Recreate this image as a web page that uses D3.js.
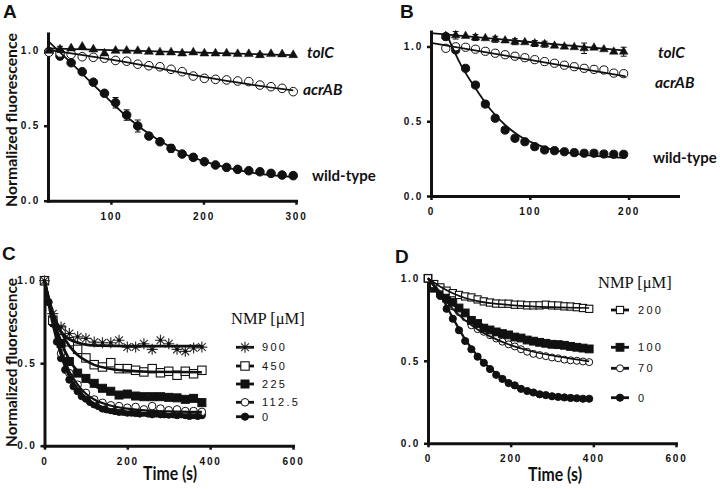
<!DOCTYPE html>
<html><head><meta charset="utf-8">
<script src="https://cdn.jsdelivr.net/npm/d3@7"></script>
<style>body{margin:0;background:#fff}svg{display:block}</style>
</head><body>
<svg id="chart" width="720" height="489"></svg>
<script>
// ---------------- DATA ----------------
// Panel A
const timeA = [33,45,57,69,81,93,105,117,129,141,153,165,177,189,201,213,225,237,249,261,273,285,297];
const tolcA = [1.0,1.009,1.016,1.027,1.009,0.982,1.0,1.0,0.998,0.993,0.989,0.989,0.982,0.989,0.982,0.982,0.982,0.978,0.978,0.971,0.978,0.976,0.971];
const tolcAErr = [0,0.02,0,0,0,0,0,0,0,0,0,0,0,0,0,0,0,0,0,0.012,0,0,0];
const acrabA = [0.99,0.985,0.976,0.96,0.956,0.95,0.935,0.93,0.91,0.9,0.893,0.876,0.86,0.831,0.816,0.809,0.805,0.798,0.794,0.771,0.76,0.749,0.727];
const acrabAErr = [0.02,0,0,0,0,0.02,0,0.02,0.015,0,0,0,0,0,0,0,0,0,0,0,0,0.02,0];
const wtA = [0.994,0.965,0.92,0.86,0.79,0.716,0.653,0.571,0.498,0.431,0.393,0.349,0.311,0.289,0.26,0.238,0.222,0.209,0.2,0.193,0.182,0.171,0.167];
const wtAErr = [0.02,0.025,0,0,0,0.015,0.035,0.035,0.04,0.02,0,0.025,0,0.02,0,0,0,0,0,0,0,0,0];
const fitTolcA = [[32,1.015],[297,0.97]];
const fitAcrabA = [[32,1.005],[100,0.94],[150,0.885],[200,0.825],[250,0.775],[297,0.735]];
const fitWtA = [[32,1.065],[60,0.9],[90,0.72],[120,0.545],[150,0.41],[180,0.31],[210,0.245],[240,0.2],[270,0.172],[297,0.158]];

// Panel B
const timeB = [15,25,35,45,55,65,75,85,95,105,115,125,135,145,155,165,175,185,195];
const tolcB = [1.07,1.075,1.07,1.06,1.055,1.048,1.04,1.032,1.028,1.02,1.015,1.005,0.999,0.995,0.988,0.992,0.981,0.965,0.965];
const tolcBErr = [0,0.025,0,0.02,0,0.02,0,0.02,0,0.02,0.02,0,0,0,0.035,0,0,0,0.03];
const acrabB = [0.988,0.998,0.995,0.982,0.968,0.955,0.945,0.935,0.925,0.912,0.899,0.888,0.875,0.865,0.854,0.847,0.843,0.822,0.818];
const wtB = [1.066,0.977,0.854,0.742,0.615,0.52,0.441,0.386,0.363,0.33,0.308,0.303,0.296,0.29,0.286,0.286,0.281,0.279,0.279];
const fitTolcB = [[0,1.09],[197,0.972]];
const fitAcrabB = [[0,1.025],[197,0.80]];
const fitWtB = [[16,1.08],[30,0.88],[45,0.72],[60,0.58],[75,0.475],[90,0.40],[105,0.35],[120,0.315],[140,0.288],[160,0.272],[180,0.262],[197,0.256]];

// Panel C
const timeC20 = [0,20,40,60,80,100,120,140,160,180,200,220,240,260,280,300,320,340,360,380];
const timeC10 = [0,10,20,30,40,50,60,70,80,90,100,110,120,130,140,150,160,170,180,190,200,210,220,230,240,250,260,270,280,290,300,310,320,330,340,350,360,370,380];
const c900 = [1.0,0.80,0.72,0.68,0.66,0.65,0.628,0.624,0.624,0.639,0.598,0.598,0.618,0.584,0.639,0.618,0.584,0.572,0.592,0.598];
const c450 = [1.0,0.76,0.70,0.63,0.584,0.532,0.491,0.477,0.503,0.467,0.467,0.457,0.447,0.467,0.442,0.451,0.427,0.451,0.436,0.457];
const c225 = [1.0,0.76,0.62,0.51,0.44,0.408,0.378,0.348,0.33,0.307,0.313,0.301,0.297,0.297,0.297,0.293,0.29,0.281,0.287,0.261];
const c112 = [1.0,0.76,0.56,0.44,0.37,0.32,0.28,0.26,0.245,0.24,0.23,0.235,0.22,0.24,0.225,0.215,0.22,0.21,0.21,0.205];
const c0 = [1.0,0.87,0.74,0.63,0.53,0.46,0.40,0.36,0.33,0.30,0.285,0.265,0.25,0.24,0.225,0.22,0.215,0.21,0.205,0.205,0.20,0.20,0.198,0.195,0.20,0.195,0.19,0.195,0.19,0.19,0.188,0.19,0.185,0.19,0.185,0.18,0.185,0.18,0.185];
const fitC900 = [[0,1],[10,0.89],[20,0.80],[30,0.735],[40,0.69],[60,0.645],[80,0.625],[100,0.613],[140,0.606],[200,0.604],[380,0.603]];
const fitC450 = [[0,1],[20,0.81],[40,0.69],[60,0.605],[80,0.55],[100,0.515],[120,0.49],[150,0.47],[200,0.455],[250,0.448],[380,0.445]];
const fitC225 = [[0,1],[20,0.78],[40,0.63],[60,0.52],[80,0.45],[100,0.40],[120,0.365],[150,0.33],[200,0.30],[250,0.29],[300,0.283],[380,0.28]];
const fitC112 = [[0,1],[20,0.77],[40,0.58],[60,0.45],[80,0.37],[100,0.315],[120,0.28],[150,0.25],[200,0.225],[250,0.213],[300,0.208],[380,0.205]];
const fitC0 = [[0,1],[20,0.74],[40,0.55],[60,0.42],[80,0.345],[100,0.29],[120,0.255],[150,0.225],[200,0.205],[250,0.195],[300,0.19],[380,0.188]];
const legendC = ["900","450","225","112.5","0"];

// Panel D
const timeD = [0,15,30,45,60,75,90,105,120,135,150,165,180,195,210,225,240,255,270,285,300,315,330,345,360,375,390];
const d200 = [1.0,0.965,0.945,0.925,0.91,0.899,0.89,0.884,0.872,0.86,0.853,0.847,0.846,0.846,0.84,0.84,0.836,0.836,0.836,0.84,0.836,0.835,0.83,0.829,0.825,0.82,0.815];
const d100 = [1.0,0.94,0.91,0.88,0.855,0.82,0.79,0.745,0.726,0.698,0.687,0.675,0.665,0.657,0.644,0.638,0.626,0.619,0.612,0.606,0.6,0.598,0.594,0.587,0.582,0.577,0.572];
const d70 = [1.0,0.96,0.91,0.87,0.83,0.795,0.763,0.715,0.692,0.676,0.655,0.635,0.616,0.6,0.587,0.57,0.555,0.542,0.535,0.528,0.52,0.515,0.507,0.503,0.5,0.496,0.492];
const d0 = [1.0,0.95,0.893,0.815,0.755,0.685,0.62,0.57,0.525,0.488,0.45,0.415,0.39,0.365,0.351,0.33,0.317,0.308,0.297,0.292,0.285,0.281,0.278,0.275,0.273,0.27,0.27];
const fitD200 = [[0,1],[30,0.949],[60,0.91],[90,0.881],[120,0.862],[150,0.849],[200,0.838],[250,0.83],[300,0.825],[390,0.82]];
const fitD100 = [[0,1],[30,0.915],[60,0.845],[90,0.785],[120,0.735],[150,0.695],[200,0.65],[250,0.62],[300,0.6],[350,0.585],[390,0.576]];
const fitD70 = [[0,1],[30,0.9],[60,0.815],[90,0.745],[120,0.69],[150,0.648],[200,0.595],[250,0.558],[300,0.532],[350,0.512],[390,0.497]];
const fitD0 = [[0,1],[30,0.9],[60,0.76],[90,0.63],[120,0.53],[150,0.455],[180,0.395],[210,0.352],[240,0.32],[270,0.3],[300,0.287],[340,0.276],[390,0.268]];
const legendD = ["200","100","70","0"];

const yTicks = [0, 0.5, 1.0];
const xTicksA = [100, 200, 300];
const xTicksB = [0, 100, 200];
const xTicksCD = [0, 200, 400, 600];

// ---------------- DRAWING ----------------
const INK = "#111";
const TICK_FONT = "'Liberation Sans', Arial, sans-serif";
const LABEL_FONT = "Lato, 'Open Sans', sans-serif";
const svg = d3.select("#chart");

function axes(g, x, y, xt, yt) {
  const xa = d3.axisBottom(x).tickValues(xt).tickSize(4).tickSizeOuter(0).tickPadding(8).tickFormat(d3.format("d"));
  const ya = d3.axisLeft(y).tickValues(yt).tickSize(4).tickSizeOuter(0).tickPadding(4).tickFormat(d3.format(".1f"));
  const gx = g.append("g").attr("transform", `translate(0,${y(0)})`).call(xa);
  const gy = g.append("g").attr("transform", `translate(${x.range()[0]},0)`).call(ya);
  [gx, gy].forEach(a => {
    a.select(".domain").attr("stroke", INK).attr("stroke-width", 3).attr("stroke-linecap", "square");
    a.selectAll(".tick line").attr("stroke", INK).attr("stroke-width", 2.5);
    a.selectAll(".tick text").attr("fill", INK)
      .style("font-family", TICK_FONT).style("font-weight", "bold")
      .style("font-size", "10px").style("letter-spacing", "1.8px");
  });
}

function starPath(r) {
  let p = "";
  for (let k = 0; k < 4; k++) {
    const a = k * Math.PI / 4, dx = r * Math.cos(a), dy = r * Math.sin(a);
    p += `M${-dx},${-dy}L${dx},${dy}`;
  }
  return p;
}

function marker(g, cx, cy, type, size, filled) {
  const fill = filled ? INK : "#fff";
  if (type === "circle") {
    g.append("circle").attr("cx", cx).attr("cy", cy).attr("r", size)
      .attr("fill", fill).attr("stroke", INK).attr("stroke-width", 1);
  } else if (type === "square") {
    g.append("rect").attr("x", cx - size).attr("y", cy - size).attr("width", 2 * size).attr("height", 2 * size)
      .attr("fill", fill).attr("stroke", INK).attr("stroke-width", filled ? 1 : 1.1);
  } else if (type === "triangle") {
    g.append("path").attr("transform", `translate(${cx},${cy})`)
      .attr("d", d3.symbol(d3.symbolTriangle, size * size * 1.9)())
      .attr("fill", INK).attr("stroke", INK).attr("stroke-width", 0.5);
  } else if (type === "star") {
    const s = g.append("g").attr("transform", `translate(${cx},${cy})`);
    s.append("path").attr("d", starPath(size)).attr("stroke", "#333").attr("stroke-width", 1.2).attr("fill", "none");
    s.append("circle").attr("r", 1.7).attr("fill", INK);
  }
}

function series(g, x, y, ts, vs, type, size, filled, errs) {
  const mg = g.append("g");
  if (errs) {
    ts.forEach((t, i) => {
      const e = errs[i];
      if (!e) return;
      const cx = x(t);
      mg.append("path").attr("d",
        `M${cx},${y(vs[i] - e)}V${y(vs[i] + e)}M${cx - 3},${y(vs[i] + e)}H${cx + 3}M${cx - 3},${y(vs[i] - e)}H${cx + 3}`)
        .attr("stroke", INK).attr("stroke-width", 1).attr("fill", "none");
    });
  }
  ts.forEach((t, i) => marker(mg, x(t), y(vs[i]), type, size, filled));
}

function fit(g, x, y, pts, w) {
  g.append("path").datum(pts)
    .attr("d", d3.line().x(d => x(d[0])).y(d => y(d[1])).curve(d3.curveMonotoneX))
    .attr("fill", "none").attr("stroke", INK).attr("stroke-width", w);
}

function label(txt, x, y, opts) {
  const t = svg.append("text").attr("x", x).attr("y", y).text(txt)
    .attr("fill", INK).style("font-family", opts.family || LABEL_FONT)
    .style("font-weight", opts.weight || "bold").style("font-size", (opts.size || 15) + "px");
  if (opts.italic) t.style("font-style", "italic");
  if (opts.anchor) t.attr("text-anchor", opts.anchor);
  if (opts.ls) t.style("letter-spacing", opts.ls);
  return t;
}

// text squeezed horizontally to a target width, keeping its height
function squeezed(txt, cx, cy, rot, size, target) {
  const g = svg.append("g").attr("transform", `translate(${cx},${cy}) rotate(${rot})`);
  const t = g.append("text").attr("text-anchor", "middle").text(txt)
    .attr("fill", INK).style("font-family", LABEL_FONT).style("font-weight", "bold").style("font-size", size + "px");
  const len = t.node().getComputedTextLength();
  if (len > 0) t.attr("transform", `scale(${target / len},1)`);
}

// ---- Panel A ----
{
  const x = d3.scaleLinear().domain([32, 300]).range([48, 296]);
  const y = d3.scaleLinear().domain([0, 1.115]).range([200.7, 33.45]);
  const g = svg.append("g");
  axes(g, x, y, xTicksA, yTicks);
  series(g, x, y, timeA, wtA, "circle", 4.3, true, wtAErr);
  series(g, x, y, timeA, acrabA, "circle", 4.3, false, acrabAErr);
  series(g, x, y, timeA, tolcA, "triangle", 4.3, true, tolcAErr);
  fit(g, x, y, fitWtA, 1.8);
  fit(g, x, y, fitAcrabA, 1.8);
  fit(g, x, y, fitTolcA, 1.8);
  label("tolC", 307, 58, {size: 15.5, italic: true});
  label("acrAB", 303, 94.5, {size: 15.5, italic: true});
  label("wild-type", 312, 180.5, {size: 15});
  squeezed("Normalized fluorescence", 16.5, 120, -90, 15.5, 174);
  label("A", 3, 18, {family: TICK_FONT, size: 19});
}

// ---- Panel B ----
{
  const x = d3.scaleLinear().domain([0, 250]).range([431, 678]);
  const y = d3.scaleLinear().domain([0, 1.1]).range([196, 31.55]);
  const g = svg.append("g");
  axes(g, x, y, xTicksB, yTicks);
  series(g, x, y, timeB, wtB, "circle", 4.1, true);
  series(g, x, y, timeB, acrabB, "circle", 4.1, false);
  series(g, x, y, timeB, tolcB, "triangle", 4.1, true, tolcBErr);
  fit(g, x, y, fitWtB, 1.8);
  fit(g, x, y, fitAcrabB, 1.8);
  fit(g, x, y, fitTolcB, 1.8);
  label("tolC", 658, 58, {size: 15.5, italic: true});
  label("acrAB", 655, 87.5, {size: 15.5, italic: true});
  label("wild-type", 653, 162.5, {size: 15});
  label("B", 400, 18, {family: TICK_FONT, size: 19});
}

// ---- Panel C ----
{
  const x = d3.scaleLinear().domain([0, 600]).range([44.5, 293]);
  const y = d3.scaleLinear().domain([0, 1]).range([445.7, 280.7]);
  const g = svg.append("g");
  axes(g, x, y, xTicksCD, yTicks);
  series(g, x, y, timeC10, c0, "circle", 3.6, true);
  series(g, x, y, timeC20, c112, "circle", 3.8, false);
  series(g, x, y, timeC20, c225, "square", 4, true);
  series(g, x, y, timeC20, c450, "square", 4.2, false);
  series(g, x, y, timeC20, c900, "star", 5.5, true);
  fit(g, x, y, fitC0, 2.8);
  fit(g, x, y, fitC112, 2.2);
  fit(g, x, y, fitC225, 2.8);
  fit(g, x, y, fitC450, 2.6);
  fit(g, x, y, fitC900, 2.8);
  // legend
  label("NMP [\u03bcM]", 231, 323.5, {family: "'Liberation Serif', 'Times New Roman', serif", weight: "normal", size: 16.5});
  const rowsC = [347.3, 366, 384, 402.3, 416.7];
  const specC = [["star", 5.5, true], ["square", 4.2, false], ["square", 4, true], ["circle", 3.8, false], ["circle", 3.6, true]];
  legendC.forEach((lab, i) => {
    const lg = svg.append("g");
    lg.append("line").attr("x1", 236).attr("x2", 254).attr("y1", rowsC[i]).attr("y2", rowsC[i])
      .attr("stroke", INK).attr("stroke-width", 2.8);
    marker(lg, 245, rowsC[i], specC[i][0], specC[i][1], specC[i][2]);
    label(lab, 262, rowsC[i] + 4, {family: TICK_FONT, weight: "normal", size: 11, ls: "2.3px"});
  });
  squeezed("Normalized fluorescence", 16.5, 362.5, -90, 15.5, 169);
  squeezed("Time (s)", 170, 480, 0, 18, 54);
  label("C", 2, 260, {family: TICK_FONT, size: 19});
}

// ---- Panel D ----
{
  const x = d3.scaleLinear().domain([0, 600]).range([428, 676]);
  const y = d3.scaleLinear().domain([0, 1]).range([443.3, 278.3]);
  const g = svg.append("g");
  axes(g, x, y, xTicksCD, yTicks);
  series(g, x, y, timeD, d0, "circle", 3.6, true);
  series(g, x, y, timeD, d70, "circle", 3.5, false);
  series(g, x, y, timeD, d100, "square", 3.9, true);
  series(g, x, y, timeD, d200, "square", 3.6, false);
  fit(g, x, y, fitD0, 2.2);
  fit(g, x, y, fitD70, 1.7);
  fit(g, x, y, fitD100, 2.2);
  fit(g, x, y, fitD200, 1.7);
  label("NMP [\u03bcM]", 598, 288, {family: "'Liberation Serif', 'Times New Roman', serif", weight: "normal", size: 16.5});
  const rowsD = [310, 347.3, 368.3, 397.7];
  const specD = [["square", 3.6, false], ["square", 3.9, true], ["circle", 3.5, false], ["circle", 3.6, true]];
  legendD.forEach((lab, i) => {
    const lg = svg.append("g");
    lg.append("line").attr("x1", 611).attr("x2", 629).attr("y1", rowsD[i]).attr("y2", rowsD[i])
      .attr("stroke", INK).attr("stroke-width", 2.8);
    marker(lg, 620, rowsD[i], specD[i][0], specD[i][1], specD[i][2]);
    label(lab, 638, rowsD[i] + 4, {family: TICK_FONT, weight: "normal", size: 11, ls: "2.3px"});
  });
  squeezed("Time (s)", 555, 480.5, 0, 18, 54);
  label("D", 395, 263, {family: TICK_FONT, size: 19});
}
</script>
</body></html>
